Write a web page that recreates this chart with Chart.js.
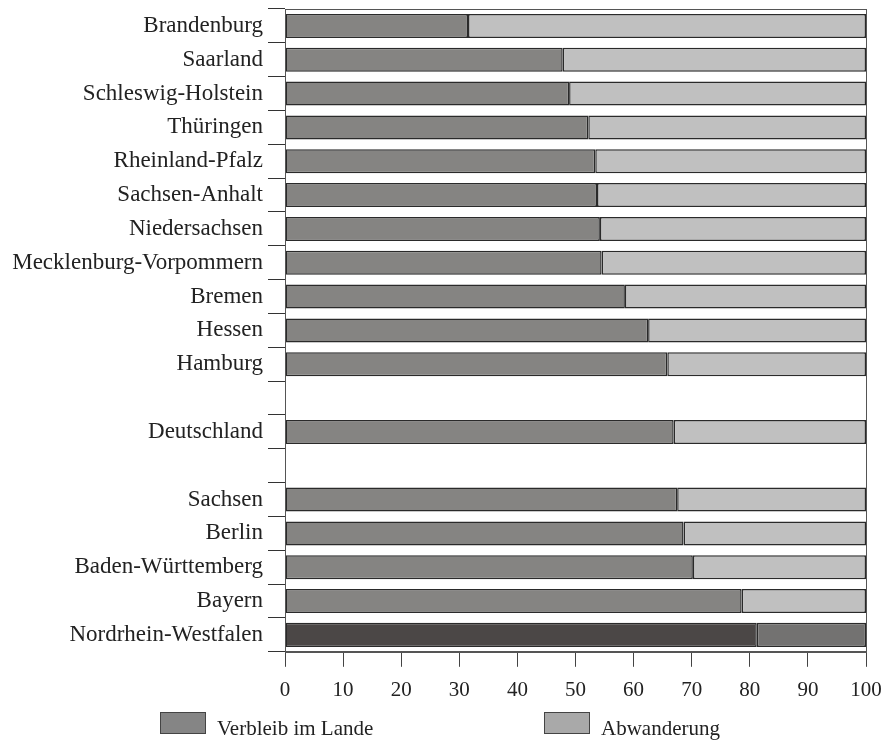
<!DOCTYPE html>
<html>
<head>
<meta charset="utf-8">
<script src="https://cdn.jsdelivr.net/npm/chart.js@4"></script>
<style>
  html, body { margin: 0; padding: 0; background: #fff; overflow: hidden; }
  #wrap { position: relative; width: 885px; height: 740px; }
  #legend { position: absolute; left: 0; top: 712px; width: 885px; height: 28px;
    font-family: "Liberation Serif", serif; font-size: 21px; line-height: 24px; color: #222; }
  .item { position: absolute; top: 0; }
  .box { position: absolute; left: 0; top: 0; width: 46px; height: 22px; border: 1px solid #444; box-sizing: border-box; }
  .txt { position: absolute; top: 4px; white-space: nowrap; }
</style>
</head>
<body>
<div id="wrap">
  <canvas id="c" width="885" height="740"></canvas>
  <div id="legend"></div>
</div>
<script>
const categories = ["Brandenburg", "Saarland", "Schleswig-Holstein", "Thüringen", "Rheinland-Pfalz",
  "Sachsen-Anhalt", "Niedersachsen", "Mecklenburg-Vorpommern", "Bremen", "Hessen", "Hamburg", "",
  "Deutschland", "", "Sachsen", "Berlin", "Baden-Württemberg", "Bayern", "Nordrhein-Westfalen"];
const verbleib = [31.5, 47.8, 48.9, 52.2, 53.4, 53.7, 54.2, 54.5, 58.5, 62.5, 65.8, null,
  66.9, null, 67.5, 68.6, 70.2, 78.6, 81.2];
const abwanderung = verbleib.map(v => v === null ? null : +(100 - v).toFixed(1));
const seriesNames = ["Verbleib im Lande", "Abwanderung"];
const xTicks = [0, 10, 20, 30, 40, 50, 60, 70, 80, 90, 100];

const highlight = "Nordrhein-Westfalen";
const c1 = categories.map(c => c === highlight ? "#4b4746" : "#858482");
const c2 = categories.map(c => c === highlight ? "#737271" : "#c0c0c0");
const legendColors = ["#858585", "#a9a9a9"];

const frame = {
  id: "frame",
  afterDraw(chart) {
    const a = chart.chartArea, ctx = chart.ctx;
    ctx.save();
    ctx.strokeStyle = "#555";
    ctx.lineWidth = 1;
    ctx.strokeRect(Math.round(a.left) + 0.5, Math.round(a.top) + 0.5,
      Math.round(a.right - a.left), Math.round(a.bottom - a.top));
    ctx.restore();
  }
};

const yFont = { family: "'Liberation Serif', serif", size: 23 };
const xFont = { family: "'Liberation Serif', serif", size: 21 };

new Chart(document.getElementById("c"), {
  type: "bar",
  data: {
    labels: categories,
    datasets: [
      { label: seriesNames[0], data: verbleib, backgroundColor: c1, borderColor: "#2a2a2a",
        borderWidth: 1.5, borderSkipped: false, categoryPercentage: 1, barPercentage: 0.71 },
      { label: seriesNames[1], data: abwanderung, backgroundColor: c2, borderColor: "#2a2a2a",
        borderWidth: 1.5, borderSkipped: false, categoryPercentage: 1, barPercentage: 0.71 }
    ]
  },
  options: {
    indexAxis: "y",
    responsive: false,
    animation: false,
    layout: { padding: { left: 0, right: 19, top: 9, bottom: 26 } },
    plugins: { legend: { display: false }, tooltip: { enabled: false } },
    scales: {
      x: {
        stacked: true, min: 0, max: 100,
        afterBuildTicks(s) { s.ticks = xTicks.map(v => ({ value: v })); },
        afterFit(s) { s.paddingLeft = 0; s.paddingRight = 0; },
        grid: { display: true, drawOnChartArea: false, tickLength: 15, color: "#444" },
        border: { display: true, color: "#555" },
        ticks: { font: xFont, color: "#222", padding: 11, maxRotation: 0 }
      },
      y: {
        stacked: true,
        afterFit(s) { s.width = 285; s.paddingTop = 0; s.paddingBottom = 0; },
        grid: { display: true, offset: true, drawOnChartArea: false, tickLength: 17, color: "#333" },
        border: { display: true, color: "#555" },
        ticks: { font: yFont, color: "#222", padding: 5, autoSkip: false }
      }
    }
  },
  plugins: [frame]
});

const lg = document.getElementById("legend");
const lefts = [160, 544];
seriesNames.forEach((n, i) => {
  const d = document.createElement("div");
  d.className = "item";
  d.style.left = lefts[i] + "px";
  d.innerHTML = '<span class="box" style="background:' + legendColors[i] + '"></span>' +
    '<span class="txt" style="left:' + (i === 0 ? 57 : 57) + 'px">' + n + '</span>';
  lg.appendChild(d);
});
</script>
</body>
</html>
